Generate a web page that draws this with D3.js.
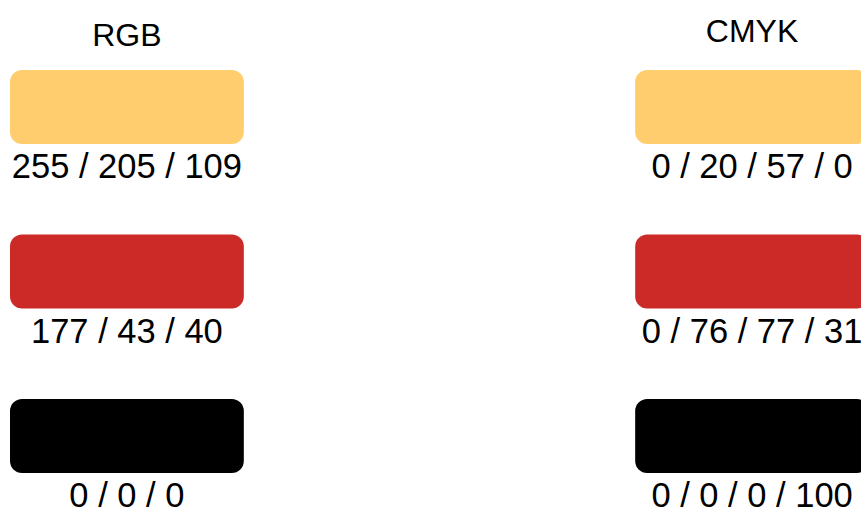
<!DOCTYPE html>
<html>
<head>
<meta charset="utf-8">
<script src="https://cdn.jsdelivr.net/npm/d3@7"></script>
<style>
  html, body { margin: 0; padding: 0; background: #fff; overflow: hidden; }
  text { font-family: "Liberation Sans", Arial, sans-serif; fill: #000; }
</style>
</head>
<body>
<svg id="swatches"></svg>
<script>
// colour models (columns) and swatches (rows)
const models = ["RGB", "CMYK"];
const swatchColors = ["#ffcd6d", "#cc2a26", "#000000"];
const rgbLabels = ["255 / 205 / 109", "177 / 43 / 40", "0 / 0 / 0"];
const cmykLabels = ["0 / 20 / 57 / 0", "0 / 76 / 77 / 31", "0 / 0 / 0 / 100"];

const width = 861, height = 509;
const svg = d3.select("#swatches").attr("width", width).attr("height", height);

// columns
const x = d3.scaleBand()
  .domain(models)
  .range([10, 869])
  .paddingInner(0.626);

// rows
const y = d3.scaleBand()
  .domain(d3.range(swatchColors.length))
  .range([70, 473])
  .paddingInner(0.55);

const labelsFor = { RGB: rgbLabels, CMYK: cmykLabels };
const titleBaseline = { RGB: 46, CMYK: 42 };

const col = svg.selectAll("g.model")
  .data(models)
  .join("g")
  .attr("class", "model")
  .attr("transform", d => "translate(" + x(d) + ",0)");

col.append("text")
  .attr("x", x.bandwidth() / 2)
  .attr("y", d => titleBaseline[d])
  .attr("text-anchor", "middle")
  .style("font-size", "32px")
  .text(d => d);

col.selectAll("rect")
  .data(() => swatchColors)
  .join("rect")
  .attr("x", 0)
  .attr("y", (d, i) => y(i))
  .attr("width", x.bandwidth())
  .attr("height", y.bandwidth())
  .attr("rx", 12)
  .attr("fill", d => d);

col.selectAll("text.value")
  .data(m => labelsFor[m])
  .join("text")
  .attr("class", "value")
  .attr("x", x.bandwidth() / 2)
  .attr("y", (d, i) => y(i) + y.bandwidth() + 34)
  .attr("text-anchor", "middle")
  .style("font-size", "34.5px")
  .text(d => d);
</script>
</body>
</html>
